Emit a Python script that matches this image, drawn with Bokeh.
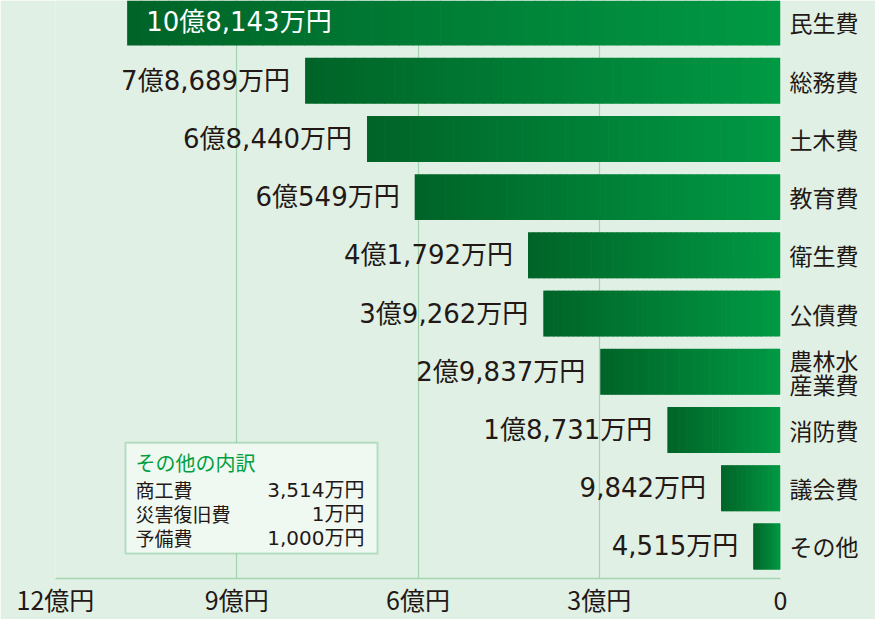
import numpy as np
from bokeh.plotting import figure
from bokeh.models import ColumnDataSource, Range1d, FixedTicker, LinearAxis, BoxAnnotation, Label
from bokeh.core.properties import value
from bokeh.embed import file_html
from bokeh.resources import INLINE

# ---------------- data ----------------
categories = ["民生費", "総務費", "土木費", "教育費", "衛生費", "公債費",
              "農林水\n産業費", "消防費", "議会費", "その他"]
amounts_oku = [10.8143, 7.8689, 6.8440, 6.0549, 4.1792, 3.9262,
               2.9837, 1.8731, 0.9842, 0.4515]
amount_labels = ["10億8,143万円", "7億8,689万円", "6億8,440万円", "6億549万円",
                 "4億1,792万円", "3億9,262万円", "2億9,837万円", "1億8,731万円",
                 "9,842万円", "4,515万円"]
tick_values = [12, 9, 6, 3, 0]
tick_labels = ["12億円", "9億円", "6億円", "3億円", "0"]
other_title = "その他の内訳"
other_items = ["商工費", "災害復旧費", "予備費"]
other_amounts = ["3,514万円", "1万円", "1,000万円"]

# ---------------- style ----------------
BG = "#e0f0e4"
GRID = "#a3d6b0"
TXT = "#231815"
DARK = np.array([0, 100, 40])
LIGHT = np.array([0, 153, 68])
FONT = "Noto Sans CJK JP"
NUMFONT = "DejaVu Sans, Noto Sans CJK JP"

W, H = 875, 619
FR_L, FR_R, FR_T, FR_B = 55, 780, 0, 579
Y_TOP, Y_BOT = -0.377, 9.55
px_per_x = (FR_R - FR_L) / 12.0
px_per_y = (FR_B - FR_T) / (Y_BOT - Y_TOP)

def px_x(px):
    return (FR_R - px) / px_per_x

def px_y(py):
    return Y_TOP + (py - FR_T) / px_per_y

p = figure(width=W, height=H, output_backend="svg", toolbar_location=None,
           x_range=Range1d(12, 0), y_range=Range1d(Y_BOT, Y_TOP),
           x_axis_location=None, y_axis_location=None,
           min_border_left=FR_L, min_border_right=W - FR_R,
           min_border_top=FR_T, min_border_bottom=H - FR_B)
p.background_fill_color = BG
p.border_fill_color = BG
p.outline_line_color = None

# grid lines (vertical)
p.xgrid.ticker = FixedTicker(ticks=tick_values)
p.xgrid.grid_line_color = GRID
p.xgrid.grid_line_width = 1.2
p.ygrid.grid_line_color = None

# bottom axis
xax = LinearAxis(ticker=FixedTicker(ticks=tick_values),
                 major_label_overrides={v: l for v, l in zip(tick_values, tick_labels)})
xax.axis_line_color = GRID
xax.axis_line_width = 1.5
xax.major_tick_line_color = None
xax.minor_tick_line_color = None
xax.major_label_text_font = FONT
xax.major_label_text_font_size = "25px"
xax.major_label_text_color = TXT
xax.major_label_text_line_height = 0.8
xax.major_label_standoff = -4
p.add_layout(xax, "below")

# right axis with category names
yax = LinearAxis(ticker=FixedTicker(ticks=list(range(len(categories)))),
                 major_label_overrides={i: c for i, c in enumerate(categories)})
yax.axis_line_color = None
yax.major_tick_line_color = None
yax.minor_tick_line_color = None
yax.major_label_text_font = FONT
yax.major_label_text_font_size = "23px"
yax.major_label_text_color = TXT
yax.major_label_standoff = 3
yax.major_label_text_line_height = 0.72
p.add_layout(yax, "right")

# gradient bars: adjacent stripes with a tiny overlap
N = 48
eps = 0.7 / px_per_x
ys, lefts, rights, cols = [], [], [], []
for k in range(N):
    t = k / (N - 1)
    c = DARK + (LIGHT - DARK) * t
    col = "#%02x%02x%02x" % tuple(int(round(x)) for x in c)
    for i, v in enumerate(amounts_oku):
        ys.append(i)
        lefts.append(v * (1 - k / N))
        rights.append(max(0.0, v * (1 - (k + 1) / N) - eps))
        cols.append(col)
bars = ColumnDataSource(dict(y=ys, left=lefts, right=rights, color=cols))
p.hbar(y="y", left="left", right="right", height=0.79, source=bars,
       fill_color="color", line_color=None)

# value labels
inside = [v > 10 for v in amounts_oku]
src_out = ColumnDataSource(dict(
    x=[v for v, f in zip(amounts_oku, inside) if not f],
    y=[i for i, f in enumerate(inside) if not f],
    t=[l for l, f in zip(amount_labels, inside) if not f]))
src_in = ColumnDataSource(dict(
    x=[v for v, f in zip(amounts_oku, inside) if f],
    y=[i for i, f in enumerate(inside) if f],
    t=[l for l, f in zip(amount_labels, inside) if f]))
p.text(x="x", y="y", text="t", source=src_out, text_align="right",
       text_baseline="middle", x_offset=-15, text_font=value(NUMFONT),
       text_font_size="26px", text_color=TXT)
p.text(x="x", y="y", text="t", source=src_in, text_align="left",
       text_baseline="middle", x_offset=19, text_font=value(NUMFONT),
       text_font_size="26px", text_color="white")

# breakdown box
box = BoxAnnotation(left=px_x(125), right=px_x(377), top=px_y(443), bottom=px_y(554),
                    fill_color="#f0f8f2", fill_alpha=1.0,
                    line_color="#3aaa5c", line_width=2, level="overlay")
p.add_layout(box)
p.add_layout(Label(x=px_x(135), y=px_y(463), text=other_title, text_font=FONT,
                   text_font_size="20px", text_color="#00a040",
                   text_baseline="middle", level="overlay"))
row_py = [490, 514, 538]
for name, amt, py in zip(other_items, other_amounts, row_py):
    p.add_layout(Label(x=px_x(135), y=px_y(py), text=name, text_font=FONT,
                       text_font_size="19px", text_color=TXT,
                       text_baseline="middle", level="overlay"))
    p.add_layout(Label(x=px_x(364), y=px_y(py), text=amt, text_font=NUMFONT,
                       text_font_size="20px", text_color=TXT, text_align="right",
                       text_baseline="middle", level="overlay"))

open("out.html", "w").write(file_html(p, INLINE))
